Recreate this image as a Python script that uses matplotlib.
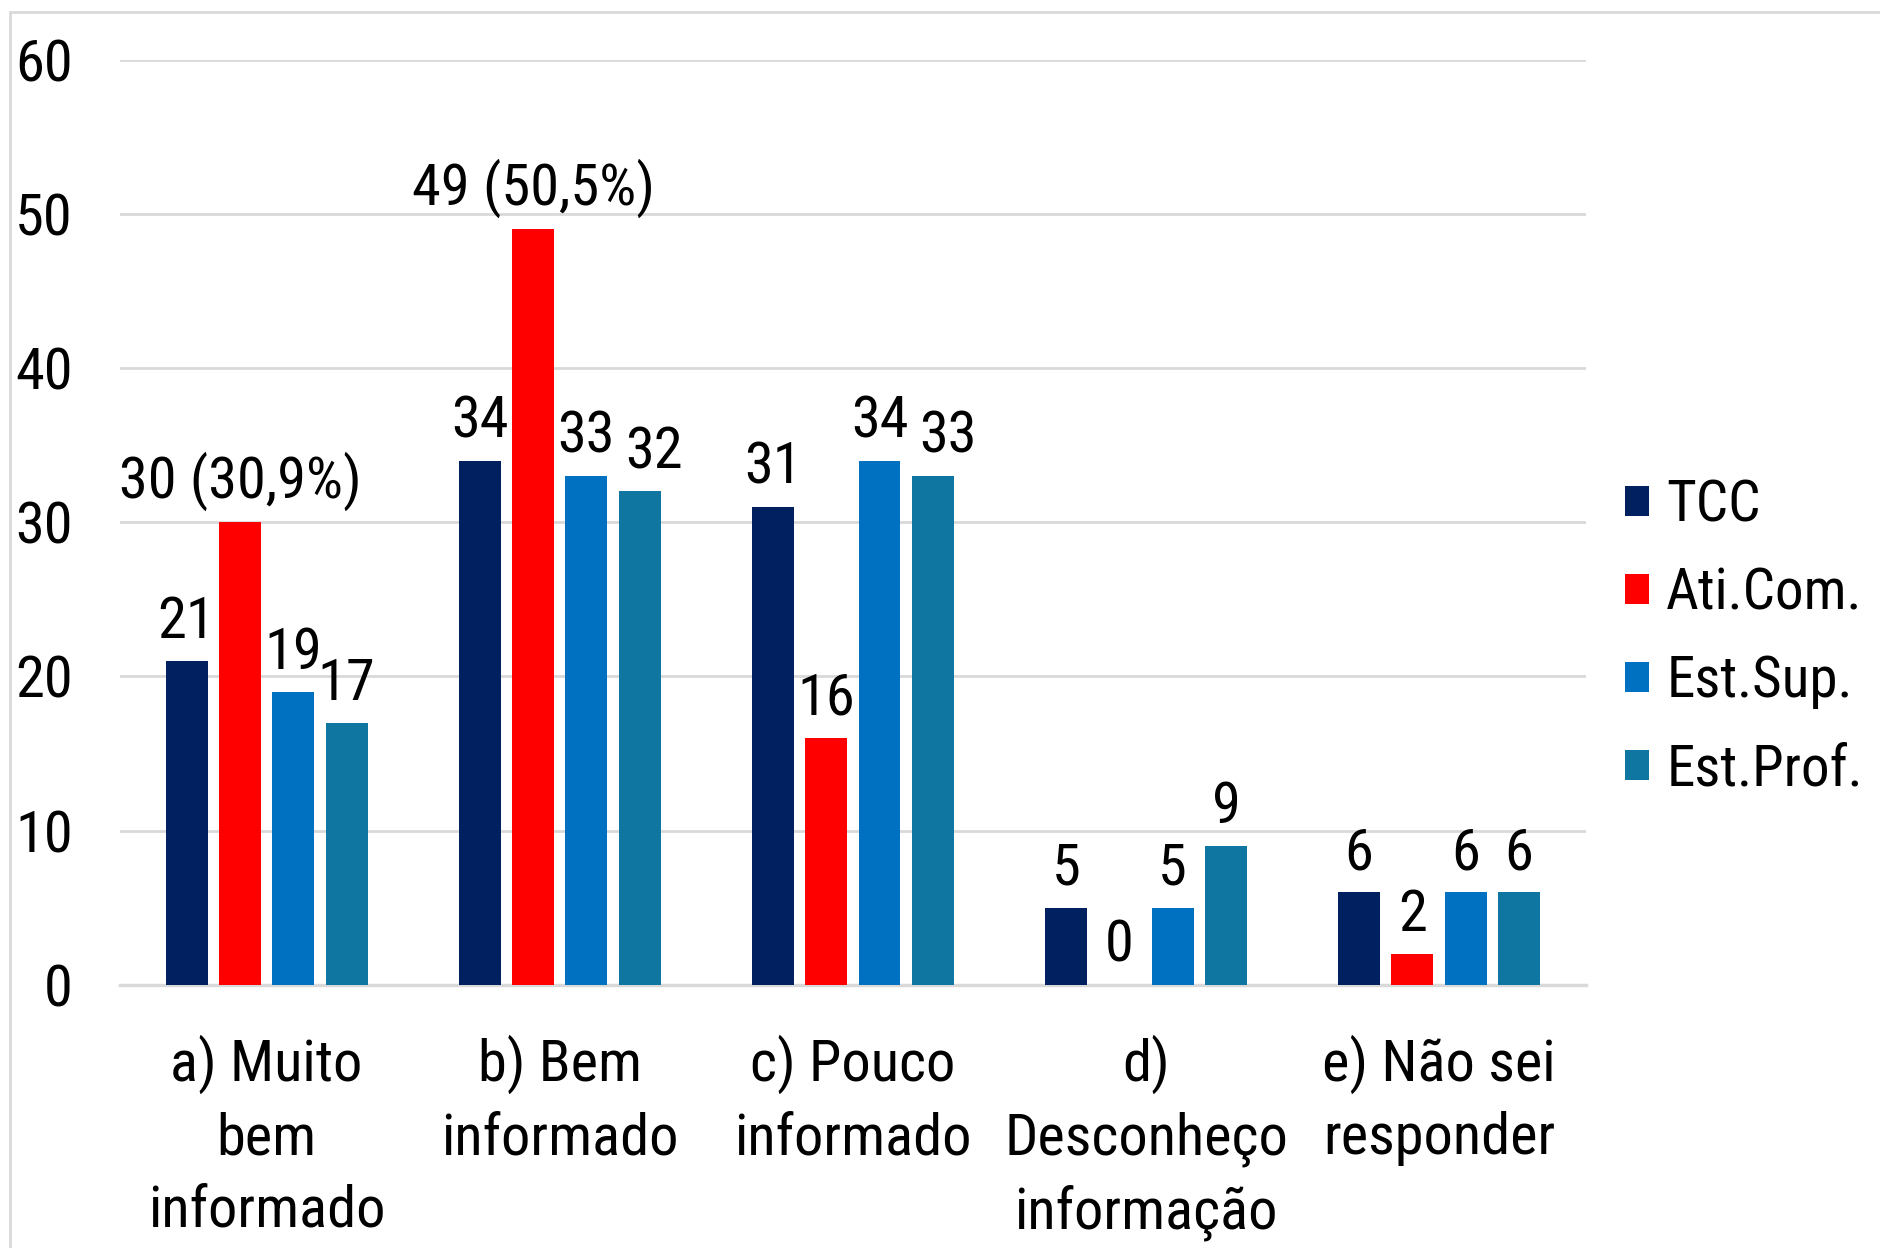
import numpy as np
import matplotlib
matplotlib.use("Agg")
from matplotlib import pyplot as plt
from matplotlib import font_manager
from matplotlib.patches import Patch, Rectangle

categories = ["a) Muito\nbem\ninformado", "b) Bem\ninformado", "c) Pouco\ninformado",
              "d)\nDesconheço\ninformação", "e) Não sei\nresponder"]
series = ["TCC", "Ati.Com.", "Est.Sup.", "Est.Prof."]
tcc = [21, 34, 31, 5, 6]
ati_com = [30, 49, 16, 0, 2]
est_sup = [19, 33, 34, 5, 6]
est_prof = [17, 32, 33, 9, 6]
# percentages shown only on the Ati.Com. labels of the first two groups
ati_pct = ["30,9%", "50,5%", None, None, None]
colors = ["#002060", "#FF0000", "#0070C0", "#0E76A0"]

# the reference uses a narrow sans; look for a condensed face
fonts = [(f.name, str(f.stretch)) for f in font_manager.fontManager.ttflist]
prefs = [("Liberation Sans Narrow", None), ("Roboto Condensed", None),
         ("Open Sans Condensed", None), ("Noto Sans", "condensed"),
         ("Open Sans", "condensed"), ("DejaVu Sans", "condensed"),
         ("Noto Sans", "semi-condensed"), ("Open Sans", "semi-condensed")]
family, stretch, fs = "Liberation Sans", "normal", 37
for name, st in prefs:
    if any(n == name and (st is None or s == st) for n, s in fonts):
        family, stretch, fs = name, st or "normal", 42
        break
plt.rcParams["font.family"] = [family, "DejaVu Sans"]
plt.rcParams["font.stretch"] = stretch

fig = plt.figure(figsize=(18.81, 12.48), dpi=100)
ax = fig.add_axes([0.0638, 0.211, 0.843 - 0.0638, 0.952 - 0.211])

x = np.arange(len(categories))
step = 0.182
width = 0.143
data = [tcc, ati_com, est_sup, est_prof]
# labels nudged sideways so neighbours don't collide (series, group): points
nudge = {(3, 1): 10, (3, 2): 11}
for i, (vals, col) in enumerate(zip(data, colors)):
    pos = x + (i - 1.5) * step
    ax.bar(pos, vals, width=width, color=col, zorder=3)
    for j, (p, v) in enumerate(zip(pos, vals)):
        txt = str(v)
        if i == 1 and ati_pct[j]:
            txt = f"{v} ({ati_pct[j]})"
        ax.annotate(txt, (p, v), xytext=(nudge.get((i, j), 0), 8),
                    textcoords="offset points",
                    ha="center", va="bottom", fontsize=fs)

ax.set_xlim(-0.5, len(categories) - 0.5)
ax.set_ylim(0, 60)
ax.set_yticks(range(0, 61, 10))
ax.yaxis.grid(True, color="#D9D9D9", linewidth=2, zorder=0)
ax.set_axisbelow(True)
for s in ["top", "right", "left"]:
    ax.spines[s].set_visible(False)
ax.spines["bottom"].set_color("#D9D9D9")
ax.spines["bottom"].set_linewidth(2.5)
ax.tick_params(axis="both", length=0, labelsize=fs)
ax.tick_params(axis="y", pad=34)
ax.tick_params(axis="x", pad=36)
ax.set_xticks(x)
ax.set_xticklabels(categories, linespacing=1.4)

handles = [Patch(facecolor=c) for c in colors]
fig.legend(handles, series, loc="center left", bbox_to_anchor=(0.864, 0.489),
           frameon=False, fontsize=fs - 1, handlelength=0.42, handleheight=0.42,
           handletextpad=0.3, labelspacing=0.58, borderpad=0, borderaxespad=0)

fig.patches.append(Rectangle((10 / 1881, -0.1), 1.2, 1 - 12 / 1248 + 0.1,
                             transform=fig.transFigure, fill=False,
                             edgecolor="#D9D9D9", linewidth=2))

fig.savefig("out.png", dpi=100)
